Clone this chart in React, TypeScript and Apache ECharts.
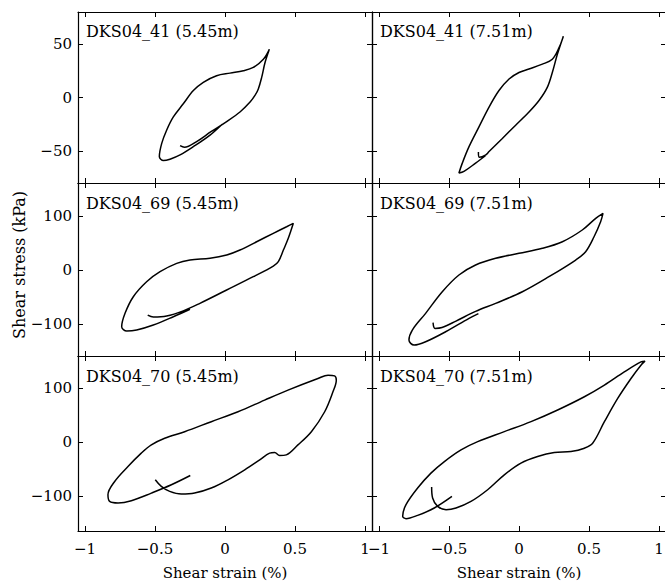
import React, { useEffect, useRef } from "react";
import * as echarts from "echarts";

const FONT = '"DejaVu Serif", serif';

const xTickValues = [-1, -0.5, 0, 0.5, 1];
const xRange = [-1.05, 1.05];
const rowYTicks = [
  [-50, 0, 50],
  [-100, 0, 100],
  [-100, 0, 100],
];
const rowYRange = [
  [-80, 80],
  [-160, 162],
  [-164, 160],
];
const panelTitles = [
  "DKS04_41 (5.45m)",
  "DKS04_41 (7.51m)",
  "DKS04_69 (5.45m)",
  "DKS04_69 (7.51m)",
  "DKS04_70 (5.45m)",
  "DKS04_70 (7.51m)",
];
const xAxisTitle = "Shear strain (%)";
const yAxisTitle = "Shear stress (kPa)";

// [shear strain (%), shear stress (kPa)]
const loop41_545 = [
  [-0.321, -45.1], [-0.29, -46.5], [-0.2, -41], [-0.1, -32], [0.012, -22.5],
  [0.107, -13.6], [0.179, -4.3], [0.214, 1.9], [0.238, 8.0], [0.262, 18.8],
  [0.286, 32.7], [0.317, 45.1], [0.274, 35.8], [0.202, 28.1], [0.131, 25],
  [0.036, 22.8], [-0.06, 20.4], [-0.155, 14.2], [-0.226, 6.5], [-0.298, -5.9],
  [-0.369, -18.2], [-0.417, -30.6], [-0.452, -42.9], [-0.469, -55.2], [-0.44, -59],
  [-0.393, -57.7], [-0.321, -53.7], [-0.226, -46], [-0.107, -35.2], [-0.02, -25],
];

const loop41_751 = [
  [-0.29, -51], [-0.283, -56], [-0.24, -54], [-0.214, -50.6], [-0.119, -38.3],
  [-0.024, -25.9], [0.071, -13.6], [0.143, -2.8], [0.202, 9.5], [0.238, 23.4],
  [0.274, 40.4], [0.317, 57.4], [0.286, 46.6], [0.238, 35.8], [0.167, 31.2],
  [0.071, 26.6], [0, 23.4], [-0.071, 17.3], [-0.143, 6.5], [-0.214, -9],
  [-0.286, -27.5], [-0.357, -46], [-0.405, -61.4], [-0.429, -70.7], [-0.393, -69.1],
  [-0.31, -61.4], [-0.24, -54.5],
];

const loop69_545 = [
  [-0.552, -84], [-0.512, -87.5], [-0.417, -85.7], [-0.298, -76], [-0.179, -62],
  [0.012, -37.2], [0.202, -12.4], [0.345, 7.4], [0.381, 15.5], [0.417, 37.2],
  [0.452, 59], [0.488, 87], [0.44, 80.6], [0.345, 68.3], [0.226, 52.7],
  [0.107, 37.2], [0.012, 27.9], [-0.107, 21.8], [-0.25, 18.6], [-0.345, 12.4],
  [-0.464, -3.1], [-0.56, -21.8], [-0.655, -49.7], [-0.714, -80.6], [-0.738, -105.5],
  [-0.702, -113.6], [-0.631, -111.7], [-0.512, -102.4], [-0.369, -87], [-0.25, -73],
];

const loop69_751 = [
  [-0.614, -98], [-0.6, -108.6], [-0.55, -107], [-0.45, -95], [-0.31, -77],
  [-0.167, -62], [0.024, -40.4], [0.214, -12.4], [0.405, 18.6], [0.476, 34.1],
  [0.536, 62], [0.583, 89.9], [0.6, 105.5], [0.548, 96.2], [0.452, 74.5],
  [0.31, 52.7], [0.167, 40.4], [0, 31.1], [-0.167, 21.8], [-0.31, 9.3],
  [-0.429, -9.3], [-0.548, -40.4], [-0.667, -80.6], [-0.762, -111.7], [-0.786, -130.4],
  [-0.75, -139.7], [-0.667, -133.5], [-0.524, -114.9], [-0.357, -89.9], [-0.29, -81],
];

const loop70_545 = [
  [-0.498, -69.2], [-0.455, -81.5], [-0.395, -90.7], [-0.312, -95.6], [-0.217, -93.8],
  [-0.098, -84.5], [0.021, -69.2], [0.141, -50.7], [0.248, -32.3], [0.319, -19.9],
  [0.355, -18.8], [0.39, -24.4], [0.438, -23.1], [0.521, -4.6], [0.617, 19.9],
  [0.712, 56.8], [0.771, 93.7], [0.795, 115.3], [0.783, 123.2], [0.736, 124.5],
  [0.664, 118.4], [0.45, 96.9], [0.283, 78.4], [0.093, 56.8], [-0.098, 38.4],
  [-0.288, 19.9], [-0.431, 7.7], [-0.526, -4.6], [-0.598, -19.9], [-0.693, -44.6],
  [-0.788, -72.3], [-0.836, -96.9], [-0.824, -109.2], [-0.764, -112.2], [-0.669, -107.9],
  [-0.526, -93.8], [-0.383, -78.4], [-0.248, -61.3],
];

const loop70_751 = [
  [-0.624, -82.7], [-0.617, -103], [-0.581, -118.4], [-0.521, -124.5], [-0.45, -121.4],
  [-0.343, -109.2], [-0.224, -87.6], [-0.105, -60], [0.014, -38.4], [0.133, -26.2],
  [0.252, -18.8], [0.371, -17], [0.467, -10.7], [0.526, -1.5], [0.61, 38.4],
  [0.705, 81.5], [0.8, 118.4], [0.871, 143], [0.9, 150.4], [0.871, 149.1],
  [0.752, 130.6], [0.61, 106.1], [0.467, 84.5], [0.276, 60], [0.086, 38.4],
  [-0.105, 19.9], [-0.295, 1.5], [-0.414, -13.8], [-0.533, -35.4], [-0.629, -56.8],
  [-0.724, -84.5], [-0.807, -115.3], [-0.831, -136.9], [-0.807, -141.1], [-0.724, -135],
  [-0.605, -121.4], [-0.479, -100],
];

const loops = [loop41_545, loop41_751, loop69_545, loop69_751, loop70_545, loop70_751];

const colLeft = [78, 372];
const rowTop = [12, 183, 356];
const rowHeight = [171, 173, 175];
const panelWidth = 294;
const titleOffset = [19, 20.5, 20];

const fmt = (v: number) => String(v).replace("-", "\u2212");

export default function App() {
  const ref = useRef<HTMLDivElement>(null);
  useEffect(() => {
    const chart = echarts.init(ref.current!, null, { renderer: "svg" });
    const grid: any[] = [];
    const xAxis: any[] = [];
    const yAxis: any[] = [];
    const series: any[] = [];
    const graphic: any[] = [];
    const axisLine = { show: true, onZero: false, lineStyle: { color: "#000", width: 1.2 } };
    const tick = (vals: number[]) => ({
      show: true,
      inside: true,
      length: 5,
      customValues: vals,
      lineStyle: { color: "#000", width: 1 },
    });
    const labelStyle = { fontFamily: FONT, fontSize: 15, color: "#000" };
    for (let i = 0; i < 6; i++) {
      const row = Math.floor(i / 2);
      const col = i % 2;
      grid.push({
        left: colLeft[col],
        top: rowTop[row],
        width: panelWidth,
        height: rowHeight[row],
        containLabel: false,
        outerBoundsMode: "none",
      });
      const bottomRow = row === 2;
      xAxis.push({
        type: "value",
        gridIndex: i,
        position: "bottom",
        min: xRange[0],
        max: xRange[1],
        axisLine,
        axisTick: tick(xTickValues),
        splitLine: { show: false },
        axisLabel: {
          show: bottomRow,
          customValues: xTickValues,
          formatter: fmt,
          margin: 10,
          ...labelStyle,
        },
        name: bottomRow ? xAxisTitle : "",
        nameLocation: "middle",
        nameGap: 34,
        nameTextStyle: labelStyle,
      });
      xAxis.push({
        type: "value",
        gridIndex: i,
        position: "top",
        min: xRange[0],
        max: xRange[1],
        axisLine,
        axisTick: tick(xTickValues),
        splitLine: { show: false },
        axisLabel: { show: false },
      });
      yAxis.push({
        type: "value",
        gridIndex: i,
        position: "left",
        min: rowYRange[row][0],
        max: rowYRange[row][1],
        axisLine,
        axisTick: tick(rowYTicks[row]),
        splitLine: { show: false },
        axisLabel: {
          show: col === 0,
          customValues: rowYTicks[row],
          formatter: fmt,
          margin: 6,
          ...labelStyle,
        },
      });
      yAxis.push({
        type: "value",
        gridIndex: i,
        position: "right",
        min: rowYRange[row][0],
        max: rowYRange[row][1],
        axisLine,
        axisTick: tick(rowYTicks[row]),
        splitLine: { show: false },
        axisLabel: { show: false },
      });
      series.push({
        type: "line",
        name: panelTitles[i],
        xAxisIndex: 2 * i,
        yAxisIndex: 2 * i,
        data: loops[i],
        showSymbol: false,
        symbol: "none",
        smooth: 0.35,
        lineStyle: { color: "#000", width: 1.5 },
        silent: true,
      });
      graphic.push({
        type: "text",
        x: colLeft[col] + 8,
        y: rowTop[row] + titleOffset[row],
        style: {
          text: panelTitles[i],
          font: `16px ${FONT}`,
          fill: "#000",
          align: "left",
          verticalAlign: "middle",
        },
      });
    }
    graphic.push({
      type: "text",
      x: 19,
      y: 265,
      rotation: Math.PI / 2,
      style: {
        text: yAxisTitle,
        font: `16px ${FONT}`,
        fill: "#000",
        align: "center",
        verticalAlign: "middle",
      },
    });
    chart.setOption({
      animation: false,
      backgroundColor: "#fff",
      grid,
      xAxis,
      yAxis,
      series,
      graphic,
    });
    return () => chart.dispose();
  }, []);
  return (
    <div
      ref={ref}
      style={{ position: "fixed", left: 0, top: 0, width: 665, height: 583, background: "#fff" }}
    />
  );
}
